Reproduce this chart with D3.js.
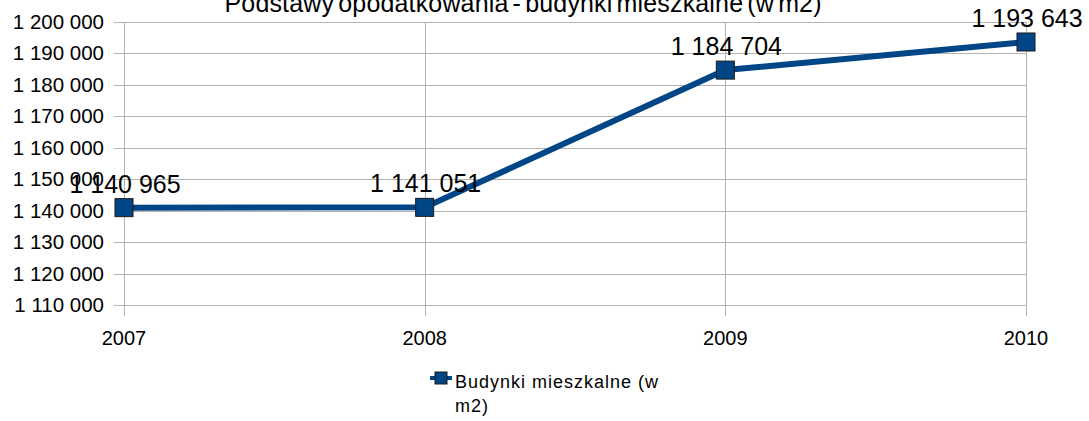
<!DOCTYPE html>
<html>
<head>
<meta charset="utf-8">
<script src="https://cdn.jsdelivr.net/npm/d3@7"></script>
<style>
  body { margin: 0; background: #fff; }
  text { font-family: "Liberation Sans", Arial, sans-serif; fill: #000; }
</style>
</head>
<body>
<div id="chart"></div>
<script>
// dane wykresu
var years = ["2007", "2008", "2009", "2010"];
var values = [1140965, 1141051, 1184704, 1193643];
var yTicks = [1110000, 1120000, 1130000, 1140000, 1150000, 1160000, 1170000, 1180000, 1190000, 1200000];
var seriesName = ["Budynki mieszkalne (w", "m2)"];
var title = "Podstawy opodatkowania - budynki mieszkalne (w m2)";

var W = 1089, H = 421;
var plotL = 124, plotR = 1026, plotT = 22, plotB = 305;
var blue = "#004586";

var svg = d3.select("#chart").append("svg")
    .attr("width", W)
    .attr("height", H);

var x = d3.scalePoint().domain(years).range([plotL, plotR]);
var y = d3.scaleLinear().domain([1110000, 1200000]).range([plotB, plotT]);

// format z odstepem jako separatorem tysiecy
var fmt = d3.formatLocale({decimal: ",", thousands: " ", grouping: [3], currency: ["", ""]}).format(",d");

// linie siatki poziome
svg.append("g").selectAll("line").data(yTicks).enter().append("line")
    .attr("x1", plotL - 10).attr("x2", plotR)
    .attr("y1", function(d){ return Math.round(y(d)) + 0.5; })
    .attr("y2", function(d){ return Math.round(y(d)) + 0.5; })
    .attr("stroke", "#b3b3b3").attr("stroke-width", 1);

// linie pionowe
svg.append("g").selectAll("line").data(years).enter().append("line")
    .attr("x1", function(d){ return Math.round(x(d)) + 0.5; })
    .attr("x2", function(d){ return Math.round(x(d)) + 0.5; })
    .attr("y1", plotT).attr("y2", plotB + 11)
    .attr("stroke", "#b3b3b3").attr("stroke-width", 1);

// etykiety osi Y
svg.append("g").selectAll("text").data(yTicks).enter().append("text")
    .attr("x", 104)
    .attr("y", function(d){ return y(d) + 7; })
    .attr("text-anchor", "end")
    .style("font-size", "20.5px")
    .text(function(d){ return fmt(d); });

// etykiety osi X
svg.append("g").selectAll("text").data(years).enter().append("text")
    .attr("x", function(d){ return x(d); })
    .attr("y", 345)
    .attr("text-anchor", "middle")
    .style("font-size", "20px")
    .text(function(d){ return d; });

// tytul
svg.append("text")
    .attr("x", 523).attr("y", 12)
    .attr("text-anchor", "middle")
    .style("font-size", "25px")
    .style("word-spacing", "-3px")
    .attr("textLength", 597)
    .attr("lengthAdjust", "spacing")
    .text(title);

// linia serii
var line = d3.line()
    .x(function(d, i){ return x(years[i]); })
    .y(function(d){ return y(d); });

svg.append("path")
    .datum(values)
    .attr("fill", "none")
    .attr("stroke", blue)
    .attr("stroke-width", 6)
    .attr("stroke-linejoin", "round")
    .attr("d", line);

// znaczniki
svg.append("g").selectAll("rect").data(values).enter().append("rect")
    .attr("x", function(d, i){ return x(years[i]) - 9; })
    .attr("y", function(d){ return y(d) - 9; })
    .attr("width", 18).attr("height", 18)
    .attr("fill", blue)
    .attr("stroke", "#1a1a1a").attr("stroke-width", 1);

// etykiety danych
svg.append("g").selectAll("text").data(values).enter().append("text")
    .attr("x", function(d, i){ return x(years[i]) + 1; })
    .attr("y", function(d){ return y(d) - 15; })
    .attr("text-anchor", "middle")
    .style("font-size", "25px")
    .text(function(d){ return fmt(d); });

// legenda
var lg = svg.append("g");
lg.append("line")
    .attr("x1", 430).attr("x2", 452)
    .attr("y1", 378).attr("y2", 378)
    .attr("stroke", blue).attr("stroke-width", 4);
lg.append("rect")
    .attr("x", 435).attr("y", 372).attr("width", 12).attr("height", 12)
    .attr("fill", blue).attr("stroke", "#1a1a1a").attr("stroke-width", 1);
lg.selectAll("text.leg").data(seriesName).enter().append("text")
    .attr("class", "leg")
    .attr("x", 455)
    .attr("y", function(d, i){ return 388 + i * 24; })
    .style("font-size", "18px")
    .style("letter-spacing", "1px")
    .text(function(d){ return d; });
</script>
</body>
</html>
